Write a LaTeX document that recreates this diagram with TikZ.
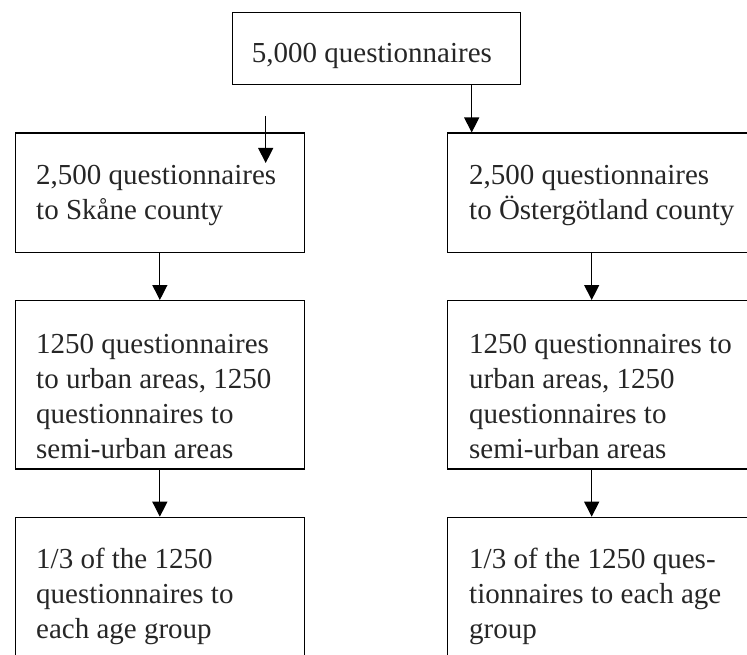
\documentclass[tikz,border=0pt]{standalone}
\usepackage{fontspec}
\setmainfont{Liberation Serif}
\usetikzlibrary{arrows.meta}
\begin{document}
\begin{tikzpicture}[x=1pt,y=-1pt,
 box/.style={draw, line width=1.2pt, rectangle, anchor=north west, inner sep=0pt},
 txt/.style={anchor=base west, align=left, inner sep=0pt, font=\fontsize{29}{35}\selectfont, text=black!85},
 arr/.style={line width=1.2pt, -{Triangle[width=15pt,length=15pt]}}]
\useasboundingbox (0,0) rectangle (747,655);
\clip (0,0) rectangle (747,655);
% boxes
\node[box, minimum width=288pt, minimum height=72pt] (top) at (232,12) {};
\node[box, minimum width=288.5pt, minimum height=119.5pt] (L1) at (15,132.5) {};
\node[box, minimum width=288.5pt, minimum height=168.3pt] (L2) at (15,300) {};
\node[box, minimum width=288.5pt, minimum height=200pt] (L3) at (15,516.7) {};
\node[box, minimum width=320pt, minimum height=119.5pt] (R1) at (447,132.5) {};
\node[box, minimum width=320pt, minimum height=168.3pt] (R2) at (447,300) {};
\node[box, minimum width=320pt, minimum height=200pt] (R3) at (447,516.7) {};
% texts (anchored at the baseline of their last line)
\node[txt] (ttop) at (251.7,63) {5,000 questionnaires};
\node[txt] (tL1) at (36,220) {2,500 questionnaires\\to Skåne county};
\node[txt] (tL2) at (36,458) {1250 questionnaires\\to urban areas, 1250\\questionnaires to\\semi-urban areas};
\node[txt] (tL3) at (36,638) {1/3 of the 1250\\questionnaires to\\each age group};
\node[txt] (tR1) at (469,220) {2,500 questionnaires\\to Östergötland county};
\node[txt] (tR2) at (469,458) {1250 questionnaires to\\urban areas, 1250\\questionnaires to\\semi-urban areas};
\node[txt] (tR3) at (469,638) {1/3 of the 1250 ques-\\tionnaires to each age\\group};
% connectors
\coordinate (x1) at (471.7,0);
\coordinate (x2) at (591.7,0);
\coordinate (f1) at (265.7,116);
\coordinate (f2) at (265.7,163);
\draw[arr] (top.south -| x1) -- (R1.north -| x1);
\draw[arr] (f1) -- (f2);
\draw[arr] (L1.south) -- (L2.north);
\draw[arr] (L2.south) -- (L3.north);
\draw[arr] (R1.south -| x2) -- (R2.north -| x2);
\draw[arr] (R2.south -| x2) -- (R3.north -| x2);
\end{tikzpicture}
\end{document}
